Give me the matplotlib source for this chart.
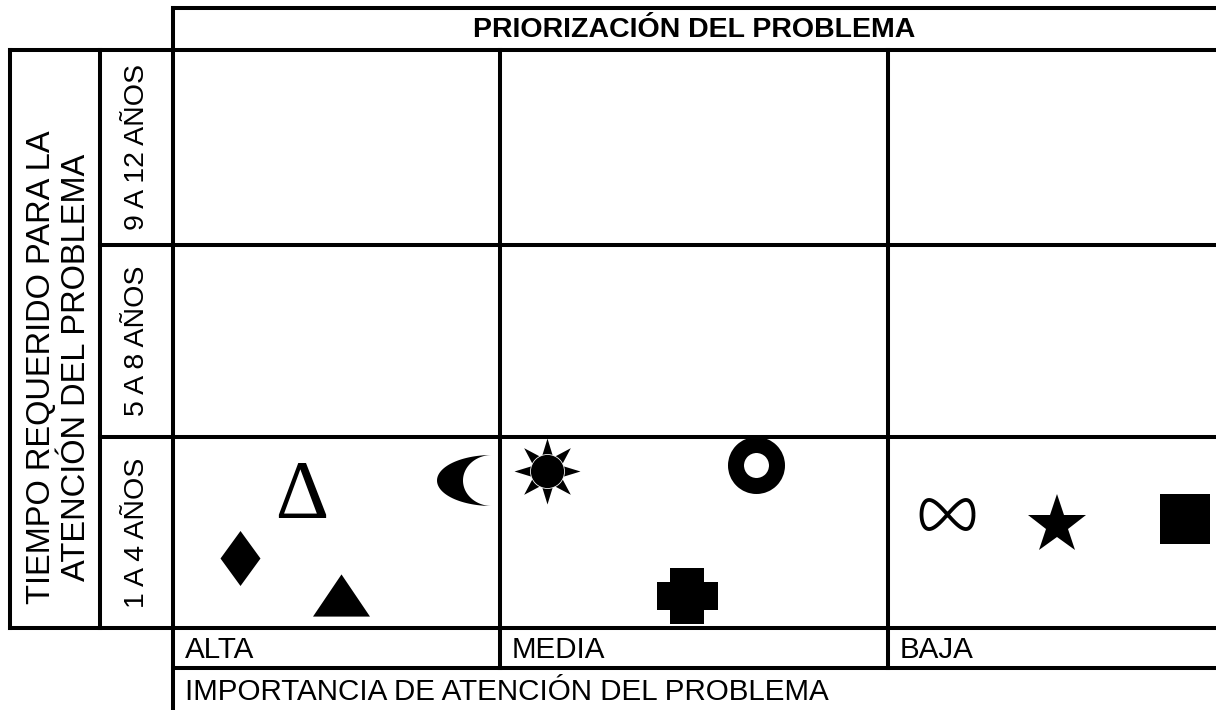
#!/usr/bin/env python3
import numpy as np
import matplotlib
matplotlib.use('Agg')
import matplotlib.pyplot as plt

# --- chart content ---
TITLE = 'PRIORIZACIÓN DEL PROBLEMA'
X_LABEL = 'IMPORTANCIA DE ATENCIÓN DEL PROBLEMA'
Y_LABEL = 'TIEMPO REQUERIDO PARA LA\nATENCIÓN DEL PROBLEMA'
IMPORTANCIA = ['ALTA', 'MEDIA', 'BAJA']
TIEMPO = ['9 A 12 AÑOS', '5 A 8 AÑOS', '1 A 4 AÑOS']

# symbols placed in the matrix: column (importance), row (time)
# and their position inside the cell as a fraction of its width / height
SYMBOLS = ['delta', 'moon', 'diamond', 'triangle',
           'sun', 'ring', 'cross',
           'infinity', 'star', 'square']
SYMBOL_COL = [0, 0, 0, 0, 1, 1, 1, 2, 2, 2]
SYMBOL_ROW = [2, 2, 2, 2, 2, 2, 2, 2, 2, 2]
SYMBOL_FX = [0.393, 0.891, 0.205, 0.515, 0.120, 0.661, 0.483, 0.180, 0.514, 0.905]
SYMBOL_FY = [0.275, 0.223, 0.636, 0.827, 0.178, 0.149, 0.832, 0.401, 0.461, 0.427]

# --- layout (pixels, figure is 1216 x 710 at 100 dpi) ---
W, H = 1216, 710
COL_EDGES = [173, 500, 888, 1216]
ROW_EDGES = [50, 245, 437, 628]
LW = 2.9
FONT = ['Liberation Sans', 'DejaVu Sans']
FS = 21.3


def px(v):
    # pixel size -> points
    return v * 72.0 / 100.0


def moon_path():
    t = np.linspace(np.pi / 2, 3 * np.pi / 2, 60)
    outer = np.column_stack([27.5 + 55 * np.cos(t), 25.5 * np.sin(t)])
    inner = np.column_stack([27.5 + 29 * np.cos(t[::-1]), 25.5 * np.sin(t[::-1])])
    return np.vstack([outer, inner])


def cross_path(w=30.5, h=28, a=17, b=14):
    return [(-a, -h), (a, -h), (a, -b), (w, -b), (w, b), (a, b),
            (a, h), (-a, h), (-a, b), (-w, b), (-w, -b), (-a, -b)]


def sun_rays(n=8, inner=0.46):
    ang = np.pi / 2 + np.arange(2 * n) * np.pi / n
    rad = np.where(np.arange(2 * n) % 2 == 0, 1.0, inner)
    return np.column_stack([rad * np.cos(ang), rad * np.sin(ang)])


def infinity_path():
    t = np.linspace(0, 2 * np.pi, 120)
    return np.column_stack([np.cos(t), 0.56 * np.sin(2 * t)])


# marker styles per symbol: list of (marker, size px, face, edge, edge width px)
STYLES = {
    'delta': [(r'$\Delta$', 55, 'black', 'black', 0)],
    'moon': [(moon_path(), 55, 'black', 'black', 0)],
    'diamond': [([(0, 1), (0.727, 0), (0, -1), (-0.727, 0)], 55, 'black', 'black', 0)],
    'triangle': [([(0, 0.74), (-1, -0.74), (1, -0.74)], 57, 'black', 'black', 0)],
    'sun': [(sun_rays(), 66, 'black', 'black', 0),
            ('o', 34, 'black', 'white', 0.8)],
    'ring': [('o', 41, 'white', 'black', 16)],
    'cross': [(cross_path(), 61, 'black', 'black', 0)],
    'infinity': [(infinity_path(), 52, 'none', 'black', 3.8)],
    'star': [('*', 62, 'black', 'black', 0)],
    'square': [('s', 50.5, 'black', 'black', 0)],
}

matplotlib.rc('mathtext', fontset='custom', rm='Liberation Serif',
              it='Liberation Serif:italic', bf='Liberation Serif:bold')

fig = plt.figure(figsize=(W / 100, H / 100), dpi=100)
ax = fig.add_axes([0, 0, 1, 1])
ax.set_xlim(0, W)
ax.set_ylim(H, 0)
ax.axis('off')


def line(x0, y0, x1, y1):
    ax.plot([x0, x1], [y0, y1], color='black', lw=LW,
            solid_capstyle='projecting')


# frame of the matrix
line(173, 8, W, 8)
line(10, ROW_EDGES[0], W, ROW_EDGES[0])
line(10, ROW_EDGES[-1], W, ROW_EDGES[-1])
for y in ROW_EDGES[1:-1]:
    line(100, y, W, y)
line(173, 668, W, 668)
line(10, ROW_EDGES[0], 10, ROW_EDGES[-1])
line(100, ROW_EDGES[0], 100, ROW_EDGES[-1])
line(173, 8, 173, H + 5)
for x in COL_EDGES[1:-1]:
    line(x, ROW_EDGES[0], x, 668)

# texts
ax.text((173 + W) / 2, 37, TITLE, ha='center', va='baseline',
        family=FONT, fontsize=20.5, fontweight='bold')
for i, lab in enumerate(TIEMPO):
    ax.text(137, (ROW_EDGES[i] + ROW_EDGES[i + 1]) / 2, lab, rotation=90,
            ha='center', va='center', family=FONT, fontsize=20.5)
ax.text(59, 367, Y_LABEL, rotation=90,
        ha='center', va='center', multialignment='center',
        family=FONT, fontsize=23.5, linespacing=1.2)
for i, lab in enumerate(IMPORTANCIA):
    ax.text(COL_EDGES[i] + 12, 658.5, lab, ha='left', va='baseline',
            family=FONT, fontsize=FS)
ax.text(185, 700, X_LABEL, ha='left', va='baseline', family=FONT, fontsize=FS)

# symbols
for name, c, r, fx, fy in zip(SYMBOLS, SYMBOL_COL, SYMBOL_ROW, SYMBOL_FX, SYMBOL_FY):
    x = COL_EDGES[c] + fx * (COL_EDGES[c + 1] - COL_EDGES[c])
    y = ROW_EDGES[r] + fy * (ROW_EDGES[r + 1] - ROW_EDGES[r])
    for marker, size, face, edge, ew in STYLES[name]:
        ax.plot([x], [y], marker=marker, markersize=px(size),
                markerfacecolor=face, markeredgecolor=edge,
                markeredgewidth=px(ew), linestyle='none', zorder=3)

fig.savefig('out.png', dpi=100)
